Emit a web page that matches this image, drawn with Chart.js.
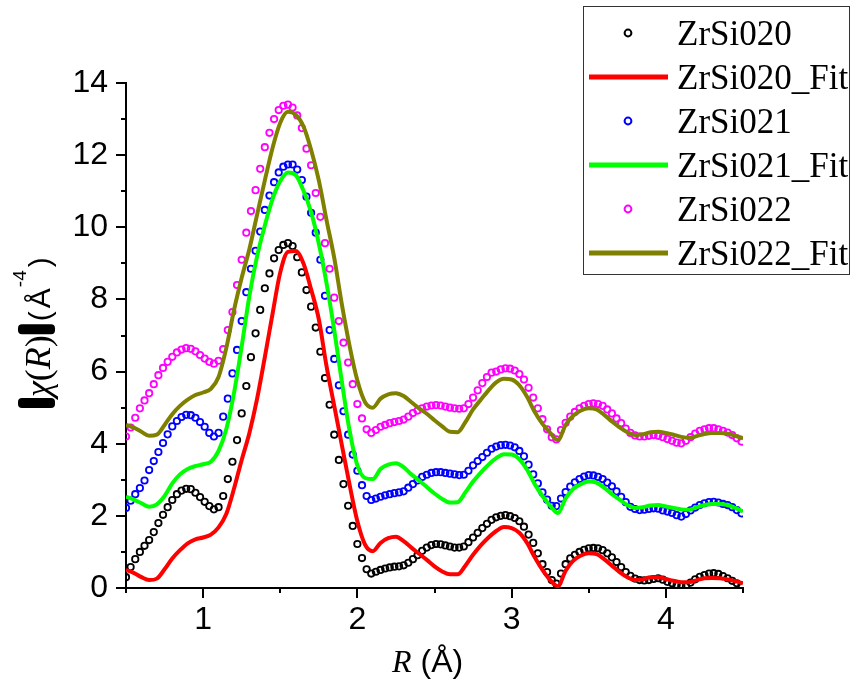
<!DOCTYPE html>
<html>
<head>
<meta charset="utf-8">
<script src="https://cdn.jsdelivr.net/npm/chart.js@4/dist/chart.umd.min.js"></script>
<style>
  html, body { margin: 0; padding: 0; background: #fff; }
  #ft { display: block; }
</style>
</head>
<body>
<canvas id="ft" width="851" height="680"></canvas>
<script>
// FT magnitude |chi(R)| of three ZrSi samples (k^3-weighted), measured points + fits

// R grid of the measured curves (Å)
const R = [
  0.50, 0.53, 0.56, 0.59, 0.62, 0.65, 0.68, 0.71, 0.74, 0.77,
  0.80, 0.83, 0.86, 0.89, 0.92, 0.95, 0.98, 1.01, 1.04, 1.07,
  1.10, 1.13, 1.16, 1.19, 1.22, 1.25, 1.28, 1.31, 1.34, 1.37,
  1.40, 1.43, 1.46, 1.49, 1.52, 1.55, 1.58, 1.61, 1.64, 1.67,
  1.70, 1.73, 1.76, 1.79, 1.82, 1.85, 1.88, 1.91, 1.94, 1.97,
  2.00, 2.03, 2.06, 2.09, 2.12, 2.15, 2.18, 2.21, 2.24, 2.27,
  2.30, 2.33, 2.36, 2.39, 2.42, 2.45, 2.48, 2.51, 2.54, 2.57,
  2.60, 2.63, 2.66, 2.69, 2.72, 2.75, 2.78, 2.81, 2.84, 2.87,
  2.90, 2.93, 2.96, 2.99, 3.02, 3.05, 3.08, 3.11, 3.14, 3.17,
  3.20, 3.23, 3.26, 3.29, 3.32, 3.35, 3.38, 3.41, 3.44, 3.47,
  3.50, 3.53, 3.56, 3.59, 3.62, 3.65, 3.68, 3.71, 3.74, 3.77,
  3.80, 3.83, 3.86, 3.89, 3.92, 3.95, 3.98, 4.01, 4.04, 4.07,
  4.10, 4.13, 4.16, 4.19, 4.22, 4.25, 4.28, 4.31, 4.34, 4.37,
  4.40, 4.43, 4.46, 4.49
];

const zrsi020 = [
  0.30, 0.58, 0.80, 1.00, 1.17, 1.33, 1.55, 1.80, 2.03, 2.24,
  2.44, 2.60, 2.70, 2.75, 2.74, 2.64, 2.52, 2.39, 2.27, 2.18,
  2.24, 2.55, 3.02, 3.50, 4.10, 4.84, 5.60, 6.40, 7.06, 7.71,
  8.31, 8.72, 9.14, 9.37, 9.51, 9.56, 9.48, 9.17, 8.75, 8.26,
  7.80, 7.22, 6.55, 5.82, 5.08, 4.25, 3.55, 2.88, 2.28, 1.72,
  1.22, 0.83, 0.52, 0.40, 0.45, 0.50, 0.54, 0.57, 0.59, 0.60,
  0.63, 0.70, 0.80, 0.91, 1.03, 1.12, 1.19, 1.22, 1.21, 1.18,
  1.15, 1.12, 1.12, 1.15, 1.27, 1.40, 1.53, 1.66, 1.78, 1.89,
  1.96, 2.00, 2.02, 1.99, 1.94, 1.85, 1.70, 1.48, 1.25, 0.96,
  0.66, 0.44, 0.22, 0.12, 0.40, 0.66, 0.82, 0.92, 1.00, 1.06,
  1.10, 1.11, 1.10, 1.05, 0.96, 0.85, 0.72, 0.58, 0.44, 0.34,
  0.26, 0.22, 0.21, 0.22, 0.25, 0.27, 0.23, 0.17, 0.13, 0.09,
  0.06, 0.05, 0.15, 0.24, 0.31, 0.36, 0.40, 0.41, 0.39, 0.33,
  0.27, 0.20, 0.13, 0.07
];

const zrsi021 = [
  2.22, 2.42, 2.60, 2.77, 2.98, 3.27, 3.52, 3.77, 4.02, 4.26,
  4.48, 4.63, 4.74, 4.80, 4.79, 4.72, 4.60, 4.47, 4.30, 4.20,
  4.30, 4.75, 5.25, 5.95, 6.60, 7.40, 8.20, 8.85, 9.35, 9.88,
  10.48, 10.88, 11.25, 11.52, 11.68, 11.74, 11.74, 11.60, 11.31, 10.85,
  10.40, 9.85, 9.10, 8.10, 7.15, 6.35, 5.62, 4.90, 4.25, 3.70,
  3.25, 2.85, 2.55, 2.44, 2.48, 2.53, 2.57, 2.60, 2.63, 2.65,
  2.68, 2.78, 2.88, 2.98, 3.08, 3.14, 3.19, 3.21, 3.21, 3.19,
  3.17, 3.15, 3.13, 3.14, 3.25, 3.40, 3.52, 3.63, 3.75, 3.86,
  3.92, 3.96, 3.97, 3.95, 3.90, 3.80, 3.65, 3.42, 3.15, 2.90,
  2.65, 2.45, 2.28, 2.27, 2.48, 2.66, 2.81, 2.93, 3.02, 3.09,
  3.13, 3.12, 3.08, 3.02, 2.92, 2.82, 2.68, 2.53, 2.38, 2.25,
  2.19, 2.16, 2.17, 2.19, 2.21, 2.20, 2.15, 2.12, 2.08, 2.02,
  1.98, 2.05, 2.15, 2.23, 2.30, 2.35, 2.38, 2.39, 2.37, 2.33,
  2.30, 2.24, 2.16, 2.07
];

const zrsi022 = [
  4.20, 4.45, 4.72, 4.98, 5.20, 5.40, 5.65, 5.90, 6.10, 6.27,
  6.41, 6.53, 6.61, 6.65, 6.63, 6.56, 6.46, 6.36, 6.27, 6.22,
  6.30, 6.62, 7.15, 7.65, 8.40, 9.10, 9.85, 10.45, 11.03, 11.62,
  12.22, 12.62, 13.00, 13.25, 13.37, 13.40, 13.32, 13.10, 12.75, 12.18,
  11.72, 10.95, 10.29, 9.56, 8.85, 8.05, 7.40, 6.80, 6.25, 5.65,
  5.10, 4.70, 4.40, 4.30, 4.38, 4.47, 4.52, 4.57, 4.60, 4.63,
  4.67, 4.75, 4.85, 4.92, 4.98, 5.03, 5.06, 5.07, 5.06, 5.03,
  5.00, 4.98, 4.97, 4.98, 5.10, 5.28, 5.48, 5.68, 5.85, 5.97,
  6.00, 6.06, 6.09, 6.08, 6.03, 5.93, 5.78, 5.55, 5.28, 4.98,
  4.68, 4.40, 4.18, 4.12, 4.38, 4.58, 4.75, 4.88, 4.98, 5.05,
  5.10, 5.12, 5.10, 5.05, 4.95, 4.84, 4.70, 4.57, 4.42, 4.30,
  4.23, 4.20, 4.20, 4.22, 4.24, 4.22, 4.18, 4.13, 4.08, 4.03,
  4.01, 4.08, 4.18, 4.28, 4.36, 4.40, 4.43, 4.43, 4.40, 4.36,
  4.31, 4.24, 4.15, 4.06
];

// R grid of the fitted curves (Å)
const R_FIT = [
  0.50, 0.55, 0.60, 0.65, 0.70, 0.75, 0.80, 0.85, 0.90, 0.95,
  1.00, 1.05, 1.10, 1.15, 1.20, 1.25, 1.30, 1.35, 1.40, 1.45,
  1.50, 1.55, 1.60, 1.65, 1.70, 1.75, 1.80, 1.85, 1.90, 1.95,
  2.00, 2.05, 2.10, 2.15, 2.20, 2.25, 2.30, 2.35, 2.40, 2.45,
  2.50, 2.55, 2.60, 2.65, 2.70, 2.75, 2.80, 2.85, 2.90, 2.95,
  3.00, 3.05, 3.10, 3.15, 3.20, 3.25, 3.30, 3.35, 3.40, 3.45,
  3.50, 3.55, 3.60, 3.65, 3.70, 3.75, 3.80, 3.85, 3.90, 3.95,
  4.00, 4.05, 4.10, 4.15, 4.20, 4.25, 4.30, 4.35, 4.40, 4.45,
  4.50
];

const zrsi020Fit = [
  0.50, 0.42, 0.30, 0.22, 0.26, 0.52, 0.82, 1.05, 1.24, 1.35,
  1.40, 1.48, 1.68, 2.05, 2.75, 3.55, 4.30, 5.25, 6.40, 7.60,
  8.75, 9.32, 9.34, 9.00, 8.28, 7.45, 6.15, 5.05, 3.95, 2.85,
  1.85, 1.20, 1.02, 1.25, 1.38, 1.42, 1.30, 1.12, 0.95, 0.78,
  0.60, 0.46, 0.38, 0.38, 0.62, 0.92, 1.18, 1.40, 1.58, 1.69,
  1.66, 1.53, 1.25, 0.85, 0.50, 0.22, 0.05, 0.48, 0.76, 0.90,
  0.96, 0.94, 0.80, 0.62, 0.44, 0.30, 0.22, 0.24, 0.30, 0.30,
  0.25, 0.20, 0.16, 0.16, 0.22, 0.27, 0.28, 0.27, 0.24, 0.19,
  0.13
];

const zrsi021Fit = [
  2.53, 2.45, 2.35, 2.25, 2.32, 2.55, 2.90, 3.15, 3.30, 3.38,
  3.43, 3.50, 3.80, 4.40, 5.40, 6.70, 8.10, 9.20, 10.05, 10.78,
  11.28, 11.52, 11.45, 11.02, 10.42, 9.55, 8.45, 7.15, 5.70, 4.35,
  3.40, 3.05, 3.02, 3.30, 3.42, 3.46, 3.35, 3.15, 2.98, 2.80,
  2.62, 2.47, 2.37, 2.38, 2.65, 2.95, 3.20, 3.42, 3.60, 3.71,
  3.70, 3.57, 3.28, 2.88, 2.55, 2.28, 2.08, 2.48, 2.75, 2.88,
  2.95, 2.92, 2.78, 2.60, 2.45, 2.30, 2.22, 2.24, 2.29, 2.30,
  2.26, 2.22, 2.18, 2.17, 2.24, 2.30, 2.33, 2.33, 2.30, 2.22,
  2.12
];

const zrsi022Fit = [
  4.52, 4.45, 4.33, 4.22, 4.25, 4.52, 4.82, 5.05, 5.22, 5.35,
  5.42, 5.52, 5.85, 6.65, 7.70, 8.60, 9.40, 10.35, 11.30, 12.20,
  12.90, 13.20, 13.12, 12.80, 12.15, 11.30, 10.20, 9.15, 7.85, 6.70,
  5.75, 5.15, 5.00, 5.25, 5.37, 5.40, 5.32, 5.15, 4.98, 4.83,
  4.65, 4.48, 4.33, 4.32, 4.60, 4.95, 5.22, 5.48, 5.70, 5.80,
  5.78, 5.62, 5.30, 4.88, 4.55, 4.30, 4.10, 4.52, 4.78, 4.92,
  4.98, 4.95, 4.80, 4.62, 4.45, 4.32, 4.24, 4.26, 4.32, 4.33,
  4.30, 4.25, 4.19, 4.16, 4.21, 4.27, 4.30, 4.30, 4.28, 4.22,
  4.15
];

const X_MIN = 0.5, X_MAX = 4.5, X_STEP = 0.5;
const Y_MIN = 0, Y_MAX = 14, Y_STEP = 1;

const SERIF = "'Liberation Serif', 'Times New Roman', serif";
const SANS = "'Liberation Sans', Arial, sans-serif";

const pts = (xs, ys) => xs.map((x, i) => ({ x, y: ys[i] }));

function measured(label, xs, ys, color, order) {
  return {
    label, data: pts(xs, ys), order,
    showLine: false,
    borderColor: color, pointBorderColor: color,
    pointBackgroundColor: "rgba(0,0,0,0)",
    pointStyle: "circle", pointRadius: 3.2, pointBorderWidth: 1.8
  };
}

function fitted(label, xs, ys, color, order) {
  return {
    label, data: pts(xs, ys), order,
    borderColor: color, borderWidth: 4,
    cubicInterpolationMode: "monotone",
    pointRadius: 0, fill: false
  };
}

// later series in the list end up on top (lower order = drawn last)
const datasets = [
  measured("ZrSi020", R, zrsi020, "#000000", 6),
  fitted("ZrSi020_Fit", R_FIT, zrsi020Fit, "#ff0000", 5),
  measured("ZrSi021", R, zrsi021, "#0000ff", 4),
  fitted("ZrSi021_Fit", R_FIT, zrsi021Fit, "#00ff00", 3),
  measured("ZrSi022", R, zrsi022, "#ff00ff", 2),
  fitted("ZrSi022_Fit", R_FIT, zrsi022Fit, "#808000", 1)
];

// major ticks long, minor ticks short, all pointing outward
const tickMarks = {
  id: "tickMarks",
  afterDraw(chart) {
    const ctx = chart.ctx;
    const xs = chart.scales.x, ys = chart.scales.y;
    ctx.save();
    ctx.strokeStyle = "#000";
    ctx.lineWidth = 2;
    ctx.beginPath();
    xs.ticks.forEach((t) => {
      const px = Math.round(xs.getPixelForValue(t.value));
      const len = Number.isInteger(t.value) ? 10 : 5;
      ctx.moveTo(px, xs.top);
      ctx.lineTo(px, xs.top + len);
    });
    ys.ticks.forEach((t) => {
      const py = Math.round(ys.getPixelForValue(t.value));
      const len = t.value % 2 === 0 ? 10 : 5;
      ctx.moveTo(ys.right, py);
      ctx.lineTo(ys.right - len, py);
    });
    ctx.stroke();
    ctx.restore();
  }
};

// axis titles with mixed fonts: R (Å) and |chi(R)| (Å^-4)
const axisTitles = {
  id: "axisTitles",
  afterDraw(chart) {
    const ctx = chart.ctx;
    ctx.save();
    ctx.fillStyle = "#000";
    ctx.textBaseline = "alphabetic";
    ctx.textAlign = "left";

    // x title
    let x = 392;
    const yBase = 672;
    ctx.font = `italic 32px ${SERIF}`;
    ctx.fillText("R", x, yBase);
    x += ctx.measureText("R").width + 9;
    ctx.font = `32px ${SANS}`;
    ctx.fillText("(Å)", x, yBase);

    // y title, rotated to read bottom-to-top
    ctx.translate(50, 408);
    ctx.rotate(-Math.PI / 2);
    const bar = (u) => {
      ctx.beginPath();
      ctx.roundRect(u, -32, 10, 37, 4);
      ctx.fill();
    };
    let u = 0;
    bar(u); u += 11;
    ctx.font = `italic 36px ${SERIF}`;
    ctx.fillText("χ", u, 0); u += ctx.measureText("χ").width;
    ctx.font = `36px ${SERIF}`;
    ctx.fillText("(", u, 0); u += ctx.measureText("(").width;
    ctx.font = `italic 36px ${SERIF}`;
    ctx.fillText("R", u, 0); u += ctx.measureText("R").width;
    ctx.font = `36px ${SERIF}`;
    ctx.fillText(")", u, 0); u += ctx.measureText(")").width;
    u += 1;
    bar(u); u += 13;
    ctx.font = `30px ${SANS}`;
    ctx.fillText("(", u, 0); u += ctx.measureText("(").width + 3;
    ctx.fillText("Å", u, 0); u += ctx.measureText("Å").width + 1;
    ctx.font = `19px ${SANS}`;
    ctx.fillText("-4", u, -24); u += ctx.measureText("-4").width + 3;
    ctx.font = `30px ${SANS}`;
    ctx.fillText(")", u, 0);
    ctx.restore();
  }
};

// boxed legend in the upper right corner
const boxLegend = {
  id: "boxLegend",
  afterDraw(chart) {
    const ctx = chart.ctx;
    const left = 583, top = 6, width = 266, height = 268;
    const rowH = 44, firstRow = 27;
    ctx.save();
    ctx.fillStyle = "#fff";
    ctx.fillRect(left, top, width, height);
    ctx.strokeStyle = "#333";
    ctx.lineWidth = 1;
    ctx.strokeRect(left + 0.5, top + 0.5, width, height);
    ctx.font = `35px ${SERIF}`;
    ctx.textBaseline = "alphabetic";
    chart.data.datasets.forEach((ds, i) => {
      const cy = top + firstRow + i * rowH;
      ctx.strokeStyle = ds.borderColor;
      if (ds.showLine === false) {
        ctx.lineWidth = 2;
        ctx.beginPath();
        ctx.arc(628, cy, 3.4, 0, Math.PI * 2);
        ctx.stroke();
      } else {
        ctx.lineWidth = 5;
        ctx.beginPath();
        ctx.moveTo(589, cy);
        ctx.lineTo(668, cy);
        ctx.stroke();
      }
      ctx.fillStyle = "#000";
      ctx.fillText(ds.label, 677, cy + 12);
    });
    ctx.restore();
  }
};

new Chart(document.getElementById("ft"), {
  type: "line",
  data: { datasets },
  options: {
    responsive: false,
    animation: false,
    devicePixelRatio: 1,
    events: [],
    layout: { padding: { top: 83, right: 108, bottom: 0, left: 0 } },
    plugins: { legend: { display: false }, tooltip: { enabled: false } },
    scales: {
      x: {
        type: "linear",
        min: X_MIN, max: X_MAX,
        grid: { display: false, drawTicks: true, tickLength: 10 },
        border: { display: true, color: "#000", width: 2 },
        ticks: {
          stepSize: X_STEP,
          autoSkip: false,
          maxRotation: 0,
          padding: 3,
          color: "#000",
          font: { family: SANS, size: 32 },
          callback: (v) => (Number.isInteger(v) ? String(v) : "")
        },
        afterFit: (s) => { s.height = 92; }
      },
      y: {
        type: "linear",
        min: Y_MIN, max: Y_MAX,
        grid: { display: false, drawTicks: true, tickLength: 10 },
        border: { display: true, color: "#000", width: 2 },
        ticks: {
          stepSize: Y_STEP,
          autoSkip: false,
          padding: 8,
          color: "#000",
          font: { family: SANS, size: 32 },
          callback: (v) => (v % 2 === 0 ? String(v) : "")
        },
        afterFit: (s) => { s.width = 126; }
      }
    }
  },
  plugins: [tickMarks, axisTitles, boxLegend]
});
</script>
</body>
</html>
